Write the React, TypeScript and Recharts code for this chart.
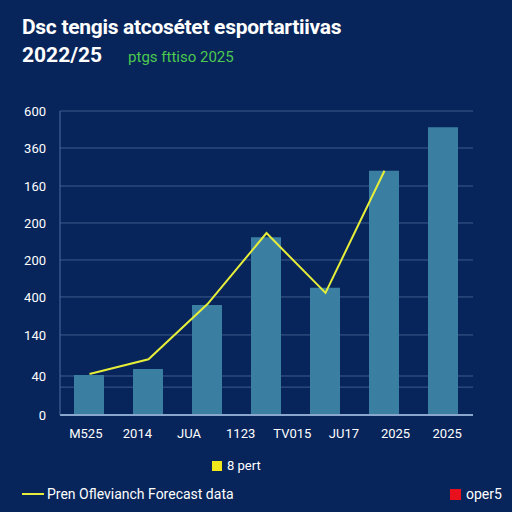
import { ComposedChart, Bar, Line, XAxis, YAxis, CartesianGrid } from 'recharts';

const bars = ['a', 'b', 'c', 'd', 'e', 'f', 'g'];
const barValues = [79, 91, 217, 351, 251, 482, 568];
const lineValues = [81, 110, 219, 359, 241, 482, null];

const xLabels = ['M525', '2014', 'JUA', '1123', 'TV015', 'JU17', '2025', '2025'];
const yTickValues = [0, 55, 77, 158, 233, 306, 379, 452, 527, 600];
const yTickLabels = ['0', '', '40', '140', '400', '200', '200', '160', '360', '600'];

// shared x scale: 7 bar slots and 8 label slots over the same width
const span = bars.length * xLabels.length;
const barStep = span / bars.length;
const labelStep = span / xLabels.length;
const labelTicks = xLabels.map((_, i) => (i + 0.5) * labelStep);

const data = bars.map((name, i) => ({
  name,
  x: (i + 0.5) * barStep,
  bar: barValues[i],
  line: lineValues[i],
}));

const font = 'Roboto, "Noto Sans", sans-serif';

export default function App() {
  return (
    <div
      style={{
        position: 'absolute',
        left: 0,
        top: 0,
        width: 512,
        height: 512,
        background: '#07255a',
        fontFamily: font,
        overflow: 'hidden',
      }}
    >
      <div style={{ position: 'absolute', left: 22, top: 14, color: '#ffffff', fontSize: 21, fontWeight: 700, lineHeight: '26px', letterSpacing: -0.3 }}>
        Dsc tengis atcosétet esportartiivas
      </div>
      <div style={{ position: 'absolute', left: 22, top: 42, color: '#ffffff', fontSize: 21, fontWeight: 700, lineHeight: '26px' }}>
        2022/25
        <span style={{ color: '#4cc94f', fontSize: 15, fontWeight: 400, marginLeft: 26 }}>ptgs fttiso 2025</span>
      </div>

      <ComposedChart
        width={512}
        height={512}
        data={data}
        margin={{ top: 111, right: 39, bottom: 67, left: 10 }}
        style={{ position: 'absolute', left: 0, top: 0 }}
      >
        <CartesianGrid horizontal vertical={false} stroke="#3d5b8c" strokeWidth={1} />
        <XAxis
          dataKey="x"
          type="number"
          domain={[0, span]}
          ticks={labelTicks}
          interval={0}
          tickFormatter={(v: number) => xLabels[labelTicks.indexOf(v)]}
          allowDataOverflow
          height={30}
          stroke="#8aa6cc"
          strokeWidth={2}
          tickLine={false}
          tick={{ fill: '#ffffff', fontSize: 13 }}
          tickMargin={8}
        />
        <YAxis
          type="number"
          domain={[0, 600]}
          ticks={yTickValues}
          interval={0}
          tickFormatter={(v: number) => yTickLabels[yTickValues.indexOf(v)]}
          width={50}
          stroke="#4f6d9c"
          tickLine={false}
          tick={{ fill: '#ffffff', fontSize: 13 }}
          tickMargin={8}
        />
        <Bar dataKey="bar" fill="#3a7fa2" barSize={30} isAnimationActive={false} />
        <Line
          dataKey="line"
          stroke="#e6ee3a"
          strokeWidth={2}
          dot={false}
          type="linear"
          isAnimationActive={false}
        />
      </ComposedChart>

      <div style={{ position: 'absolute', left: 212, top: 458, display: 'flex', alignItems: 'center', color: '#ffffff', fontSize: 13 }}>
        <span style={{ width: 10, height: 10, background: '#f0e81c', marginRight: 5 }} />8 pert
      </div>
      <div style={{ position: 'absolute', left: 22, top: 486, display: 'flex', alignItems: 'center', color: '#ffffff', fontSize: 14 }}>
        <span style={{ width: 22, height: 2, background: '#e6ee3a', marginRight: 3 }} />Pren Oflevianch Forecast data
      </div>
      <div style={{ position: 'absolute', left: 450, top: 486, display: 'flex', alignItems: 'center', color: '#ffffff', fontSize: 14 }}>
        <span style={{ width: 11, height: 11, background: '#e8101c', marginRight: 5 }} />oper5
      </div>
    </div>
  );
}
